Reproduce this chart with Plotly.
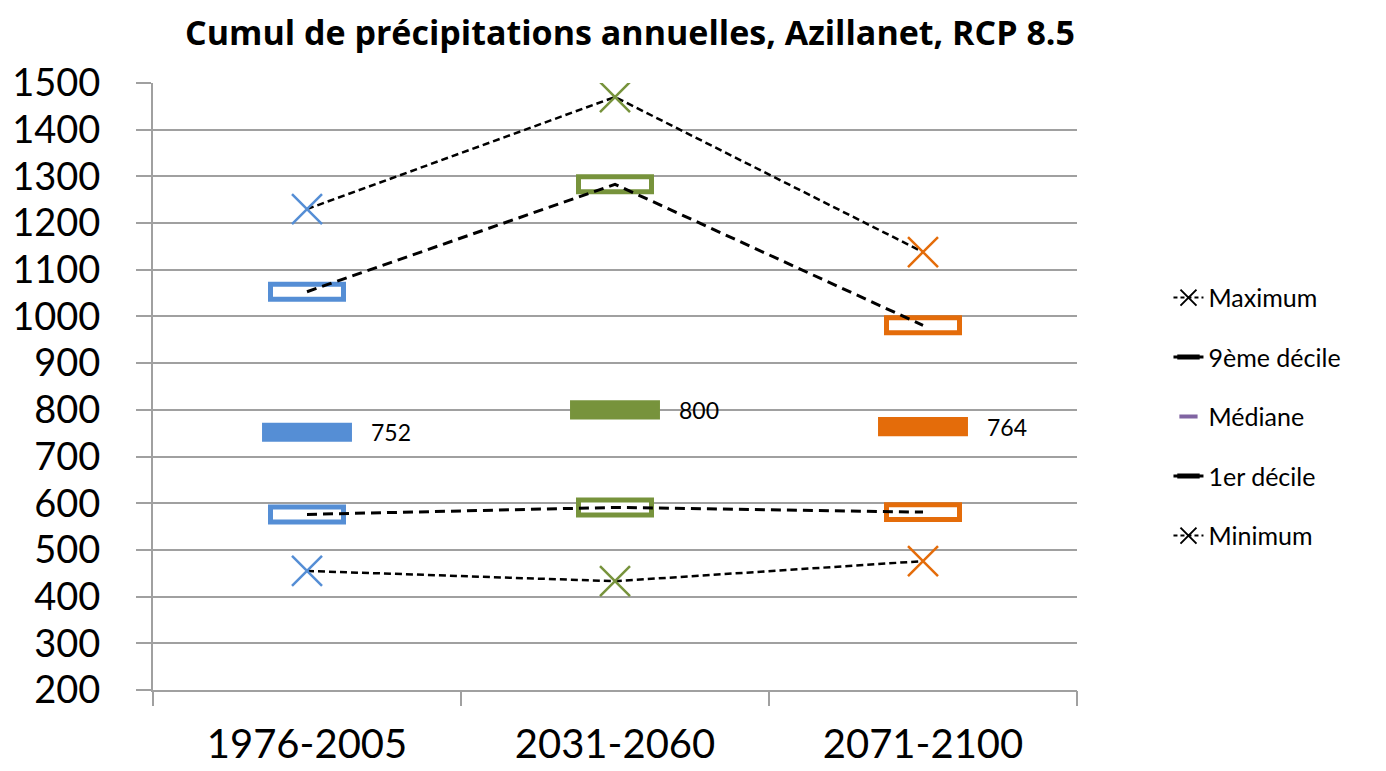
import plotly.graph_objects as go

# Données
periodes = ["1976-2005", "2031-2060", "2071-2100"]
maximum = [1230, 1470, 1138]
decile9 = [1053, 1283, 981]
mediane = [752, 800, 764]
decile1 = [576, 591, 581]
minimum = [455, 433, 476]
couleurs = ["#558ED5", "#77933C", "#E46C0A"]

FONT = "Lato"
idx = list(range(len(periodes)))

# la page ajoute une marge de 8 px autour de la figure
W, H = 1378, 763

fig = go.Figure()

# Boîtes des déciles (contour coloré, fond blanc)
h_box = 32
for vals in [decile9, decile1]:
    fig.add_trace(go.Bar(
        x=idx, y=[h_box] * len(vals), base=[v - h_box / 2 for v in vals],
        width=0.237, marker=dict(color="white", line=dict(color=couleurs, width=5)),
        showlegend=False, hoverinfo="skip"))

# Médianes (barres pleines)
h_med = 41
fig.add_trace(go.Bar(
    x=idx, y=[h_med] * len(mediane), base=[v - h_med / 2 for v in mediane],
    width=0.292, marker=dict(color=couleurs, line=dict(width=0)),
    showlegend=False, hoverinfo="skip"))

# Lignes pointillées des déciles
for vals in [decile9, decile1]:
    fig.add_trace(go.Scatter(
        x=idx, y=vals, mode="lines",
        line=dict(color="black", width=3, dash="10px,6px"),
        showlegend=False, hoverinfo="skip"))

# Max / min avec croix colorées
for vals in [maximum, minimum]:
    fig.add_trace(go.Scatter(
        x=idx, y=vals, mode="lines+markers",
        line=dict(color="black", width=2.5, dash="7px,4px"),
        marker=dict(symbol="x-thin-open", size=30, color=couleurs,
                    line=dict(color=couleurs, width=2.5)),
        showlegend=False, hoverinfo="skip"))

# Entrées de légende
leg = [
    ("Maximum", "lines+markers", dict(color="black", width=2, dash="4px,3px"),
     dict(symbol="x-thin-open", size=16, color="black", line=dict(color="black", width=2))),
    ("9ème décile", "lines+markers", dict(color="black", width=3, dash="6px,6px"),
     dict(symbol="line-ew-open", size=16, color="black", line=dict(color="black", width=7))),
    ("Médiane", "markers", None,
     dict(symbol="line-ew-open", size=13, color="#8064A2", line=dict(color="#8064A2", width=4))),
    ("1er décile", "lines+markers", dict(color="black", width=3, dash="6px,6px"),
     dict(symbol="line-ew-open", size=16, color="black", line=dict(color="black", width=7))),
    ("Minimum", "lines+markers", dict(color="black", width=2, dash="4px,3px"),
     dict(symbol="x-thin-open", size=16, color="black", line=dict(color="black", width=2))),
]
for i, (nom, mode, ln, mk) in enumerate(leg):
    kw = dict(x=[None], y=[None], mode=mode, name=nom, marker=mk,
              legendgroup=f"g{i}", showlegend=True)
    if ln:
        kw["line"] = ln
    fig.add_trace(go.Scatter(**kw))

# Étiquettes des médianes
for i, v in enumerate(mediane):
    fig.add_annotation(x=i, y=v, text=str(v), showarrow=False, xanchor="left",
                       xshift=62, font=dict(family=FONT, size=23, color="black"))

fig.update_layout(
    width=W, height=H,
    paper_bgcolor="white", plot_bgcolor="white",
    barmode="overlay",
    margin=dict(l=145, r=309, t=75, b=81, autoexpand=False),
    title=dict(text="<b>Cumul de précipitations annuelles, Azillanet, RCP 8.5</b>",
               x=622 / W, xref="container", xanchor="center",
               y=1 - 25 / H, yref="container", yanchor="middle",
               font=dict(family="Open Sans", size=34, color="black")),
    legend=dict(x=1.099, xanchor="left", y=0.45, yanchor="middle",
                font=dict(family=FONT, size=25, color="black"),
                traceorder="grouped", tracegroupgap=24, bgcolor="rgba(0,0,0,0)"),
    font=dict(family=FONT, color="black"),
)

fig.update_xaxes(
    type="linear", range=[-0.5, 2.5], tickmode="array", tickvals=idx, ticktext=periodes,
    showgrid=False, zeroline=False, showline=True, linecolor="#A0A0A0", linewidth=2,
    ticks="", tickfont=dict(family=FONT, size=40, color="black"),
    ticklabelstandoff=18, automargin=False,
)
# traits de séparation des catégories
fig.add_trace(go.Scatter(x=[-0.5], y=[200], xaxis="x2", showlegend=False, hoverinfo="skip",
                         mode="markers", marker=dict(opacity=0)))
fig.update_layout(xaxis2=dict(
    overlaying="x", range=[-0.5, 2.5], tickmode="array",
    tickvals=[i - 0.5 for i in range(len(periodes) + 1)],
    ticks="outside", ticklen=15, tickwidth=2, tickcolor="#A0A0A0",
    showticklabels=False, showgrid=False, zeroline=False, anchor="y", side="bottom",
    automargin=False))

fig.update_yaxes(
    range=[200, 1500], dtick=100, tick0=200,
    showgrid=True, gridcolor="#A0A0A0", gridwidth=2,
    zeroline=False, showline=True, linecolor="#A0A0A0", linewidth=2,
    ticks="outside", ticklen=15, tickwidth=2, tickcolor="#A0A0A0",
    tickfont=dict(family=FONT, size=38, color="black"),
    ticklabelstandoff=28, automargin=False,
)

fig.write_html("out.html")
